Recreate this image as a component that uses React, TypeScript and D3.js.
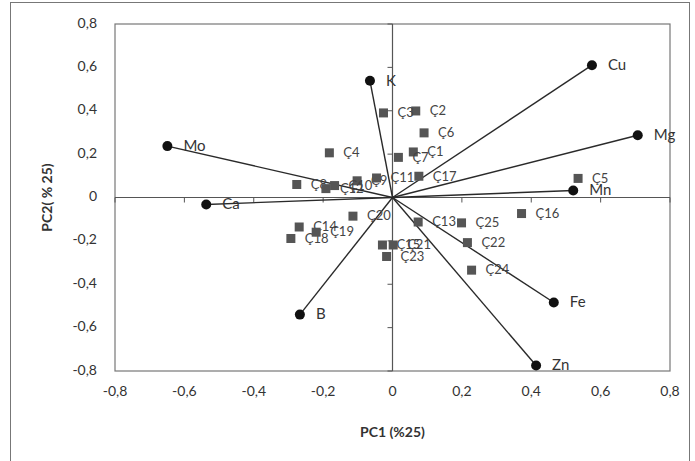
import React from "react";
import * as d3 from "d3";

const varNames = ["Cu", "Mg", "Mn", "Fe", "Zn", "B", "Ca", "Mo", "K"];
const varPC1 = [0.575, 0.707, 0.521, 0.465, 0.414, -0.267, -0.537, -0.649, -0.065];
const varPC2 = [0.61, 0.287, 0.032, -0.484, -0.775, -0.54, -0.032, 0.237, 0.538];

const sampleNames = [
  "Ç1", "Ç2", "Ç3", "Ç4", "Ç5", "Ç6", "Ç7", "Ç8", "Ç9", "Ç10", "Ç11", "Ç12", "Ç13",
  "Ç14", "Ç15", "Ç16", "Ç17", "Ç18", "Ç19", "Ç20", "Ç21", "Ç22", "Ç23", "Ç24", "Ç25",
];
const samplePC1 = [
  0.06, 0.067, -0.026, -0.182, 0.535, 0.091, 0.017, -0.276, -0.102, -0.167, -0.046, -0.192, 0.074,
  -0.269, -0.029, 0.372, 0.076, -0.293, -0.22, -0.114, 0.002, 0.216, -0.017, 0.228, 0.199,
];
const samplePC2 = [
  0.21, 0.399, 0.39, 0.206, 0.088, 0.298, 0.185, 0.06, 0.077, 0.055, 0.09, 0.041, -0.113,
  -0.136, -0.219, -0.074, 0.098, -0.189, -0.16, -0.086, -0.219, -0.208, -0.272, -0.335, -0.117,
];

const ticks = [-0.8, -0.6, -0.4, -0.2, 0, 0.2, 0.4, 0.6, 0.8];
const xTitle = "PC1 (%25)";
const yTitle = "PC2( % 25)";

const fmt = (v: number) => (Math.abs(v) < 1e-9 ? "0" : d3.format(".1f")(v).replace(".", ",").replace("−", "-"));

export default function App() {
  const W = 695, H = 461;
  const x = d3.scaleLinear().domain([-0.8, 0.8]).range([115, 670]);
  const y = d3.scaleLinear().domain([-0.8, 0.8]).range([371, 24]);
  const font = "Lato, 'Open Sans', sans-serif";
  const x0 = x(0), y0 = y(0);
  return (
    <svg width={W} height={H} style={{ position: "absolute", left: 0, top: 0 }} fontFamily={font}>
      <rect x={0} y={0} width={W} height={H} fill="#fff" />
      {/* outer border */}
      <rect x={10.5} y={2.5} width={679} height={480} fill="none" stroke="#777" strokeWidth={1} />
      {/* plot area border */}
      <rect x={x(-0.8)} y={y(0.8)} width={x(0.8) - x(-0.8)} height={y(-0.8) - y(0.8)} fill="none" stroke="#777" strokeWidth={1.2} />
      {/* zero axes */}
      <line x1={x(-0.8)} x2={x(0.8)} y1={y0} y2={y0} stroke="#555" strokeWidth={1.2} />
      <line x1={x0} x2={x0} y1={y(0.8)} y2={y(-0.8)} stroke="#555" strokeWidth={1.2} />
      {ticks.map((t) => (
        <g key={"t" + t}>
          <line x1={x(t)} x2={x(t)} y1={y0} y2={y0 + 5} stroke="#555" />
          <line x1={x0 - 5} x2={x0} y1={y(t)} y2={y(t)} stroke="#555" />
          <text x={x(t)} y={392} textAnchor="middle" dominantBaseline="middle" fontSize={14} fill="#333">
            {fmt(t)}
          </text>
          <text x={97} y={y(t)} textAnchor="end" dominantBaseline="middle" fontSize={14} fill="#333">
            {fmt(t)}
          </text>
        </g>
      ))}
      <text x={x0} y={433} textAnchor="middle" dominantBaseline="middle" fontSize={14} fontWeight="bold" fill="#333">
        {xTitle}
      </text>
      <text
        transform={`translate(48,${y0}) rotate(-90)`}
        textAnchor="middle"
        dominantBaseline="middle"
        fontSize={14}
        fontWeight="bold"
        fill="#333"
      >
        {yTitle}
      </text>
      {/* loading vectors */}
      {varNames.map((n, i) => (
        <line key={"l" + n} x1={x0} y1={y0} x2={x(varPC1[i])} y2={y(varPC2[i])} stroke="#2a2a2a" strokeWidth={1.4} />
      ))}
      {/* samples */}
      {sampleNames.map((n, i) => (
        <g key={"s" + n}>
          <rect x={x(samplePC1[i]) - 4.5} y={y(samplePC2[i]) - 4.5} width={9} height={9} fill="#555" />
          <text x={x(samplePC1[i]) + 14} y={y(samplePC2[i]) + 1} dominantBaseline="middle" fontSize={13} fill="#444">
            {n}
          </text>
        </g>
      ))}
      {varNames.map((n, i) => (
        <g key={"v" + n}>
          <circle cx={x(varPC1[i])} cy={y(varPC2[i])} r={5} fill="#111" />
          <text x={x(varPC1[i]) + 16} y={y(varPC2[i]) + 1} dominantBaseline="middle" fontSize={15} fill="#333">
            {n}
          </text>
        </g>
      ))}
    </svg>
  );
}
